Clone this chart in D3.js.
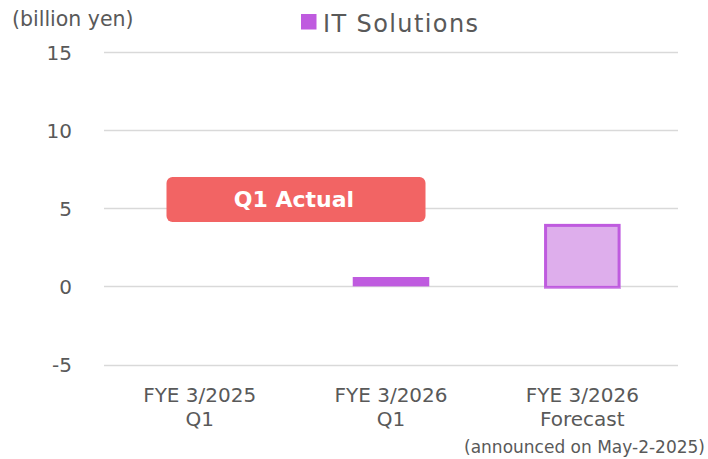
<!DOCTYPE html>
<html><head><meta charset="utf-8">
<script src="https://cdn.jsdelivr.net/npm/d3@7"></script>
<style>body{margin:0;background:#fff}svg{display:block}text{font-family:"DejaVu Sans",sans-serif}</style>
</head><body><svg id="c" width="708" height="459"></svg>
<script>
const categories = ["FYE 3/2025|Q1", "FYE 3/2026|Q1", "FYE 3/2026|Forecast"];
const values = [0, 0.6, 4.0];
const kinds = ["actual", "actual", "forecast"];
const yTicks = [-5, 0, 5, 10, 15];
const seriesName = "IT Solutions";
const unitLabel = "(billion yen)";
const noteLabel = "(announced on May-2-2025)";
const badgeLabel = "Q1 Actual";

const svg = d3.select("#c");
const m = {l:104, r:30, t:52, b:95};
const x = d3.scaleBand().domain(categories).range([m.l, 678]).paddingInner(0.6).paddingOuter(0.3);
const y = d3.scaleLinear().domain([-5, 15]).range([364.5, 52]);

// gridlines
svg.append("g").selectAll("line").data(yTicks).join("line")
  .attr("x1", m.l).attr("x2", 678)
  .attr("y1", d => Math.round(y(d)) + 0.5).attr("y2", d => Math.round(y(d)) + 0.5)
  .attr("stroke", "#d9d9d9").attr("stroke-width", 1.5);

// y axis labels
const yAxis = d3.axisLeft(y).tickValues(yTicks).tickSize(0).tickPadding(0).tickFormat(d => String(d));
const ya = svg.append("g").attr("transform", "translate(72,0)").call(yAxis);
ya.select(".domain").remove();
ya.selectAll("text").attr("font-size", 20).attr("fill", "#595959")
  .attr("font-family", '"DejaVu Sans",sans-serif').attr("dy", "0.36em");

// bars
const bw = x.bandwidth();
categories.forEach((c, i) => {
  const v = values[i];
  if (v === 0) return;
  if (kinds[i] === "actual") {
    svg.append("rect").attr("x", x(c)).attr("width", bw)
      .attr("y", y(v)).attr("height", y(0) - y(v)).attr("fill", "#BF5BDF");
  } else {
    svg.append("rect").attr("x", x(c) + 1.5).attr("width", bw - 3)
      .attr("y", y(v) + 1.5).attr("height", y(0) - y(v) - 0.5)
      .attr("fill", "#DEAEEC").attr("stroke", "#BF5BDF").attr("stroke-width", 3);
    svg.append("line").attr("x1", x(c)).attr("x2", x(c) + bw)
      .attr("y1", y(0) + 2).attr("y2", y(0) + 2).attr("stroke", "#D69BE9").attr("stroke-width", 1.2);
  }
});

// x labels
categories.forEach((c, i) => {
  const cx = x(c) + bw / 2;
  const parts = c.split("|");
  const t = svg.append("text").attr("text-anchor", "middle").attr("font-size", 20).attr("fill", "#595959");
  t.append("tspan").attr("x", cx).attr("y", 402).text(parts[0]);
  t.append("tspan").attr("x", cx).attr("y", 426).text(parts[1]);
});
svg.append("text").attr("x", 705).attr("y", 453).attr("text-anchor", "end")
  .attr("font-size", 17).attr("fill", "#595959").text(noteLabel);

// badge
svg.append("rect").attr("x", 166.5).attr("y", 177).attr("width", 259).attr("height", 45)
  .attr("rx", 6).attr("fill", "#F26464");
svg.append("text").attr("x", 294).attr("y", 207).attr("text-anchor", "middle")
  .attr("font-size", 22).attr("font-weight", "bold").attr("fill", "#fff").text(badgeLabel);

// unit label
svg.append("text").attr("x", 12).attr("y", 26).attr("font-size", 20.5).attr("fill", "#595959").text(unitLabel);

// legend
svg.append("rect").attr("x", 301).attr("y", 14).attr("width", 15.5).attr("height", 15.5).attr("fill", "#BF5BDF");
svg.append("text").attr("x", 323).attr("y", 32).attr("font-size", 24).attr("fill", "#595959")
  .attr("textLength", 155).attr("lengthAdjust", "spacing").text(seriesName);
</script></body></html>
